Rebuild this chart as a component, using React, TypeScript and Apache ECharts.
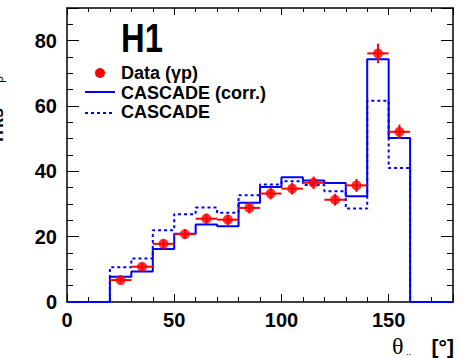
import React, { useEffect, useRef } from "react";
import * as echarts from "echarts";

const binStarts = [20, 30, 40, 50, 60, 70, 80, 90, 100, 110, 120, 130, 140, 150];
const binWidth = 10;
const dataValues = [6.7, 10.8, 17.8, 20.8, 25.5, 25.2, 28.8, 33.2, 34.7, 36.5, 31.3, 35.7, 76.1, 52.1];
const dataErrors = [1.0, 1.2, 1.4, 1.5, 1.6, 1.6, 1.7, 1.8, 1.8, 1.9, 1.8, 2.0, 3.0, 2.2];
const corrValues = [7.7, 9.3, 16.2, 20.9, 23.7, 23.2, 30.4, 35.2, 38.2, 37.2, 36.4, 32.4, 74.3, 50.2];
const cascadeValues = [10.6, 13.3, 22.0, 26.9, 28.9, 27.3, 32.7, 36.0, 37.0, 35.8, 33.9, 28.6, 61.6, 41.0];
const xTickLabels = ["0", "50", "100", "150"];
const yTickLabels = ["0", "20", "40", "60", "80"];

const FONT = "'Liberation Sans', Arial, Helvetica, sans-serif";

export default function App() {
  const ref = useRef<HTMLDivElement>(null);
  useEffect(() => {
    if (!ref.current) return;
    const chart = echarts.init(ref.current, undefined, { renderer: "svg" });
    const lastEdge = binStarts[binStarts.length - 1] + binWidth;
    const corrLine: number[][] = [[0, 0]];
    binStarts.forEach((b, i) => corrLine.push([b, corrValues[i]]));
    corrLine.push([lastEdge, 0], [180, 0]);
    const cascLine: number[][] = [[binStarts[0], 0]];
    binStarts.forEach((b, i) => cascLine.push([b, cascadeValues[i]]));
    cascLine.push([lastEdge, 0]);
    const points = binStarts.map((b, i) => [b + binWidth / 2, dataValues[i], dataErrors[i]]);

    const xLab = (v: number) => (xTickLabels.includes(String(v)) ? String(v) : "");
    const yLab = (v: number) => (yTickLabels.includes(String(v)) ? String(v) : "");
    const line = { show: true, onZero: false, lineStyle: { color: "#000", width: 1.5 } };
    const noLine = { show: false, onZero: false };
    const base = { type: "value", min: 0, splitLine: { show: false } };
    const xBase = { ...base, max: 180 };
    const yBase = { ...base, max: 90 };
    const tick = (len: number) => ({ show: true, inside: true, length: len, lineStyle: { color: "#000", width: 1 } });

    chart.setOption({
      animation: false,
      grid: { left: 67, right: 12, top: 8, bottom: 56 },
      xAxis: [
        {
          ...xBase, position: "bottom", interval: 50, axisLine: line, axisTick: tick(8),
          axisLabel: { formatter: xLab, color: "#000", fontFamily: FONT, fontWeight: "bold", fontSize: 20, margin: 8 },
        },
        { ...xBase, position: "top", interval: 50, axisLine: line, axisTick: tick(7), axisLabel: { show: false } },
        { ...xBase, position: "bottom", interval: 10, axisLine: noLine, axisTick: tick(5), axisLabel: { show: false } },
        { ...xBase, position: "top", interval: 10, axisLine: noLine, axisTick: tick(4), axisLabel: { show: false } },
      ],
      yAxis: [
        {
          ...yBase, position: "left", interval: 20, axisLine: line, axisTick: tick(12),
          axisLabel: { formatter: yLab, color: "#000", fontFamily: FONT, fontWeight: "bold", fontSize: 20, margin: 10 },
        },
        { ...yBase, position: "right", interval: 20, axisLine: line, axisTick: tick(12), axisLabel: { show: false } },
        { ...yBase, position: "left", interval: 5, axisLine: noLine, axisTick: tick(6), axisLabel: { show: false } },
        { ...yBase, position: "right", interval: 5, axisLine: noLine, axisTick: tick(6), axisLabel: { show: false } },
      ],
      series: [
        {
          type: "line", name: "CASCADE", data: cascLine, step: "end", symbol: "none",
          lineStyle: { color: "#0000ff", width: 2, type: [3, 3] }, z: 2,
        },
        {
          type: "line", name: "CASCADE (corr.)", data: corrLine, step: "end", symbol: "none",
          lineStyle: { color: "#0000ff", width: 2 }, z: 3,
        },
        {
          type: "custom", name: "err", data: points, z: 4,
          renderItem: (params: any, api: any) => {
            const x = api.value(0), y = api.value(1), e = api.value(2);
            const l = api.coord([x - binWidth / 2, y]);
            const r = api.coord([x + binWidth / 2, y]);
            const t = api.coord([x, y + e]);
            const b = api.coord([x, y - e]);
            const st = { stroke: "#ff0000", lineWidth: 2 };
            return {
              type: "group",
              children: [
                { type: "line", shape: { x1: l[0], y1: l[1], x2: r[0], y2: r[1] }, style: st },
                { type: "line", shape: { x1: t[0], y1: t[1], x2: b[0], y2: b[1] }, style: st },
              ],
            };
          },
        },
        {
          type: "scatter", name: "Data (γp)", data: points.map((p) => [p[0], p[1]]),
          symbol: "circle", symbolSize: 10, itemStyle: { color: "#ff0000" }, z: 5,
        },
      ],
      graphic: [
        {
          type: "text", x: 121, y: 38, scaleX: 0.82,
          style: { text: "H1", font: `bold 40px ${FONT}`, fill: "#000", verticalAlign: "middle" },
        },
        { type: "circle", shape: { cx: 100, cy: 73, r: 5 }, style: { fill: "#ff0000" } },
        { type: "line", shape: { x1: 85, y1: 92, x2: 115, y2: 92 }, style: { stroke: "#0000ff", lineWidth: 2 } },
        { type: "line", shape: { x1: 85, y1: 113, x2: 115, y2: 113 }, style: { stroke: "#0000ff", lineWidth: 2, lineDash: [3, 3] } },
        { type: "text", x: 121, y: 73, style: { text: "Data (γp)", font: `bold 18px ${FONT}`, fill: "#000", verticalAlign: "middle" } },
        { type: "text", x: 121, y: 93, style: { text: "CASCADE (corr.)", font: `bold 18px ${FONT}`, fill: "#000", verticalAlign: "middle" } },
        { type: "text", x: 121, y: 112, style: { text: "CASCADE", font: `bold 18px ${FONT}`, fill: "#000", verticalAlign: "middle" } },
        {
          type: "text", x: 6, y: 108, rotation: Math.PI / 2,
          style: { text: "Trks", font: `bold 18px ${FONT}`, fill: "#000", align: "right", verticalAlign: "bottom" },
        },
        {
          type: "text", x: 5, y: 76, rotation: Math.PI / 2,
          style: { text: "ρ", font: `12px ${FONT}`, fill: "#000", align: "right", verticalAlign: "bottom" },
        },
        {
          type: "text", x: 392, y: 358,
          style: { text: "θ", font: `24px 'Liberation Serif', serif`, fill: "#000", align: "left", verticalAlign: "bottom" },
        },
        {
          type: "text", x: 406, y: 356,
          style: { text: "..", font: `9px ${FONT}`, fill: "#000", align: "left", verticalAlign: "bottom" },
        },
        {
          type: "text", x: 454, y: 357,
          style: { text: "[°]", font: `bold 21px ${FONT}`, fill: "#000", align: "right", verticalAlign: "bottom" },
        },
      ],
    });
    return () => chart.dispose();
  }, []);
  return <div ref={ref} style={{ width: 465, height: 358, position: "absolute", left: 0, top: 0 }} />;
}
